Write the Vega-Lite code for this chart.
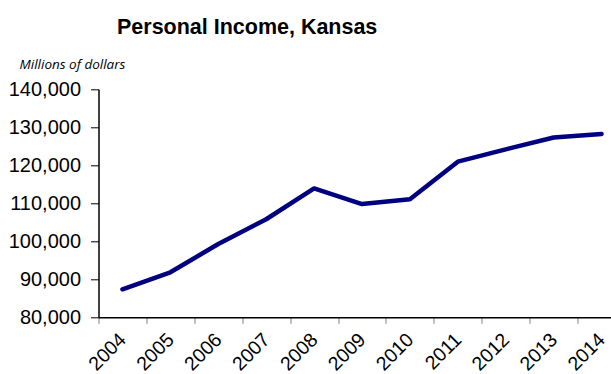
{
  "$schema": "https://vega.github.io/schema/vega-lite/v6.json",
  "autosize": {"type": "none"},
  "width": 527,
  "height": 228,
  "padding": {"left": 98.5, "top": 89.3, "right": 0, "bottom": 57},
  "background": "white",
  "title": {
    "text": "Personal Income, Kansas",
    "anchor": "start",
    "dx": 18.5,
    "offset": 0,
    "frame": "group",
    "font": "Liberation Sans",
    "fontSize": 21.5,
    "fontWeight": "bold",
    "color": "black",
    "baseline": "alphabetic",
    "dy": -2
  },
  "config": {
    "view": {"stroke": null},
    "axis": {"grid": false, "labelFont": "Liberation Sans", "labelColor": "black"}
  },
  "data": {
    "values": [
      {"year": "2004", "income": 87370},
      {"year": "2005", "income": 91840},
      {"year": "2006", "income": 99290},
      {"year": "2007", "income": 105800},
      {"year": "2008", "income": 113900},
      {"year": "2009", "income": 109800},
      {"year": "2010", "income": 111050},
      {"year": "2011", "income": 120950},
      {"year": "2012", "income": 124200},
      {"year": "2013", "income": 127300},
      {"year": "2014", "income": 128250}
    ]
  },
  "mark": {"type": "line", "color": "#000080", "strokeWidth": 4.5, "strokeCap": "round", "strokeJoin": "round"},
  "encoding": {
    "x": {
      "field": "year",
      "type": "ordinal",
      "scale": {"type": "band", "paddingInner": 0, "paddingOuter": 0},
      "axis": {
        "title": null,
        "labelAngle": -45,
        "labelAlign": "right",
        "labelBaseline": "middle",
        "labelFontSize": 19.5,
        "labelPadding": 13,
        "tickBand": "extent",
        "tickSize": 6,
        "tickColor": "#808080",
        "domainColor": "black",
        "domainWidth": 1.5
      }
    },
    "y": {
      "field": "income",
      "type": "quantitative",
      "scale": {"domain": [80000, 140000], "nice": false, "zero": false},
      "axis": {
        "values": [80000, 90000, 100000, 110000, 120000, 130000, 140000],
        "format": ",d",
        "labelFontSize": 20,
        "labelPadding": 10,
        "tickSize": 8,
        "tickColor": "black",
        "domainColor": "black",
        "domainWidth": 1.5,
        "title": "Millions of dollars",
        "titleAngle": 0,
        "titleAlign": "left",
        "titleBaseline": "alphabetic",
        "titleX": -79.5,
        "titleY": -21,
        "titleFont": "Open Sans",
        "titleFontStyle": "italic",
        "titleFontWeight": "normal",
        "titleFontSize": 13.5,
        "titleColor": "black"
      }
    }
  }
}
